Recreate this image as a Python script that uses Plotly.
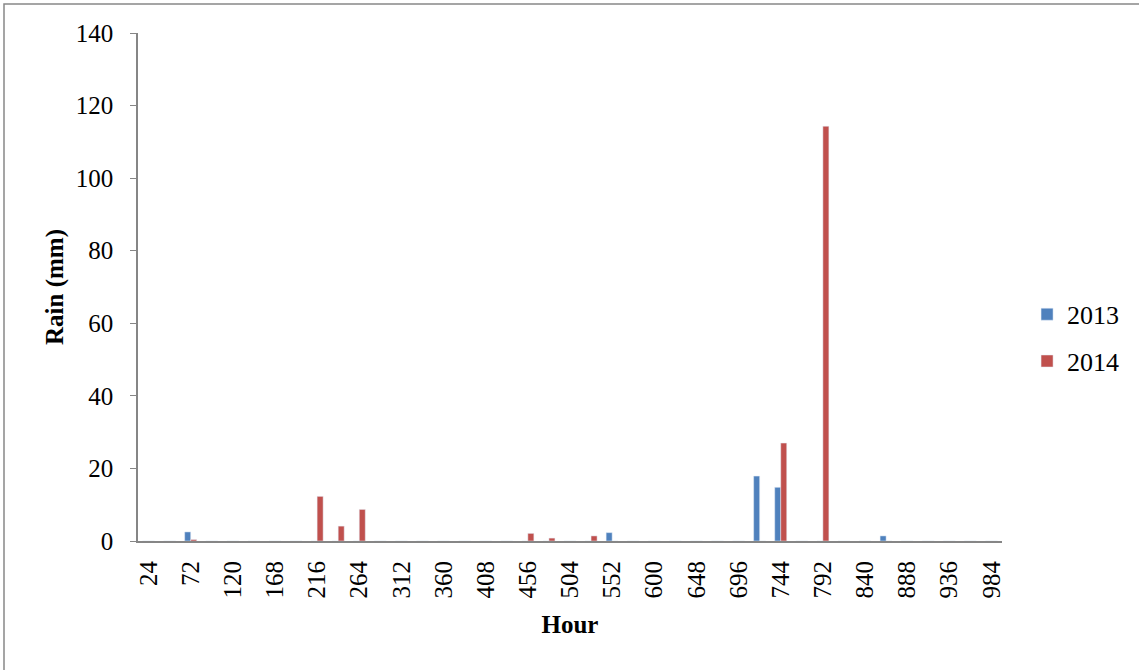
import plotly.graph_objects as go

hours = [str(h) for h in range(24, 985, 24)]
tick_labels = [str(h) for h in range(24, 985, 48)]

rain_2013_hours = [72, 552, 720, 744, 864]
rain_2013_vals = [2.5, 2.3, 17.9, 14.8, 1.4]
rain_2014_hours = [72, 216, 240, 264, 456, 480, 528, 744, 792]
rain_2014_vals = [0.4, 12.3, 4.1, 8.7, 2.1, 0.8, 1.4, 27.0, 114.3]

def full_series(hrs, vals):
    d = dict(zip(hrs, vals))
    return [d.get(int(h), 0) for h in hours]

y2013 = full_series(rain_2013_hours, rain_2013_vals)
y2014 = full_series(rain_2014_hours, rain_2014_vals)

FONT = "Liberation Serif"

fig = go.Figure()
fig.add_trace(go.Bar(x=hours, y=y2013, name="2013", marker_color="#4F81BD",
                     legendgroup="a"))
fig.add_trace(go.Bar(x=hours, y=y2014, name="2014", marker_color="#C0504D",
                     legendgroup="b"))

fig.update_layout(
    width=1139, height=670,
    margin=dict(l=138, r=137, t=33, b=129, autoexpand=False),
    paper_bgcolor="white", plot_bgcolor="white",
    barmode="group", bargap=0.43, bargroupgap=0,
    font=dict(family=FONT, size=25, color="black"),
    legend=dict(x=1.029, y=0.40, xanchor="left", yanchor="middle",
                font=dict(family=FONT, size=26), tracegroupgap=10,
                itemwidth=30, bgcolor="rgba(0,0,0,0)"),
    xaxis=dict(type="category", tickmode="array", tickvals=tick_labels,
               ticktext=tick_labels, tickangle=-90, showline=True,
               linecolor="#868686", linewidth=2, ticks="", showgrid=False,
               ticklabelstandoff=8,
               tickfont=dict(family=FONT, size=25),
               title=dict(text="<b>Hour</b>", font=dict(family=FONT, size=25),
                          standoff=18)),
    yaxis=dict(range=[0, 140], dtick=20, showline=True, linecolor="#868686",
               linewidth=1.5, ticks="outside", ticklen=6, tickcolor="#868686",
               showgrid=False, zeroline=False, ticklabelstandoff=12,
               tickfont=dict(family=FONT, size=25),
               title=dict(text="<b>Rain (mm)</b>", font=dict(family=FONT, size=25),
                          standoff=5)),
    shapes=[dict(type="rect", xref="paper", yref="paper",
                 x0=(4 - 138) / 864, x1=(1170 - 138) / 864,
                 y0=(541 - 690) / 508, y1=(541 - 4) / 508,
                 line=dict(color="#888888", width=1.5), fillcolor="rgba(0,0,0,0)",
                 layer="below")],
)

fig.write_html("out.html")
